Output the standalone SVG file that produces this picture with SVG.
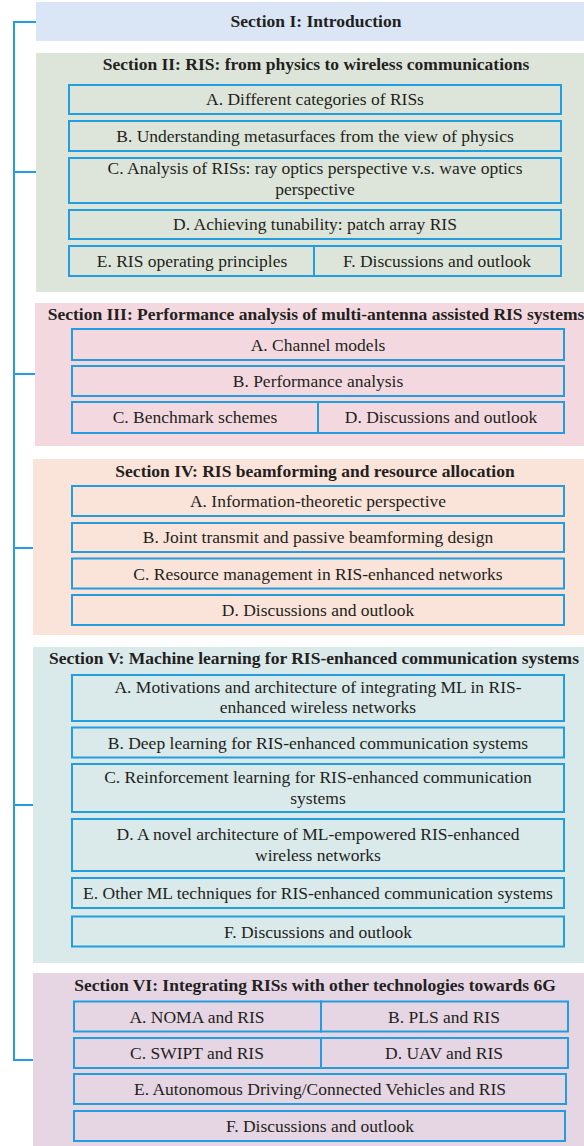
<svg xmlns="http://www.w3.org/2000/svg" width="584" height="1146" viewBox="0 0 584 1146">
<style>
text{font-family:"Liberation Serif","Times New Roman",serif;font-size:17.5px;fill:#231f20;text-anchor:middle}
.t{font-weight:bold}
.b{fill:none;stroke:#229ee0;stroke-width:2}
.c{fill:none;stroke:#229ee0;stroke-width:2}
</style>
<rect width="584" height="1146" fill="#ffffff"/>
<g id="connectors">
<path class="c" d="M14 22V1060M13 22H36M14 172H36M14 374H35M14 548H33M14 805H33M13 1060H33"/>
</g>
<g id="s1">
<rect x="36" y="2" width="548" height="39" fill="#dae6f5"/>
<text class="t" x="316" y="27">Section I: Introduction</text>
</g>
<g id="s2">
<rect x="36" y="53" width="548" height="239" fill="#dde5da"/>
<text class="t" x="316" y="70">Section II: RIS: from physics to wireless communications</text>
<g id="s2a"><rect class="b" x="69" y="85" width="492" height="29"/><text x="315" y="105">A. Different categories of RISs</text></g>
<g id="s2b"><rect class="b" x="69" y="121" width="492" height="30"/><text x="315" y="142">B. Understanding metasurfaces from the view of physics</text></g>
<g id="s2c"><rect class="b" x="69" y="158" width="492" height="45"/><text x="315" y="174">C. Analysis of RISs: ray optics perspective v.s. wave optics</text><text x="315" y="195">perspective</text></g>
<g id="s2d"><rect class="b" x="69" y="210" width="492" height="29"/><text x="315" y="230">D. Achieving tunability: patch array RIS</text></g>
<g id="s2e"><rect class="b" x="69" y="246" width="245" height="30"/><text x="192" y="267">E. RIS operating principles</text></g>
<g id="s2f"><rect class="b" x="314" y="246" width="247" height="30"/><text x="437" y="267">F. Discussions and outlook</text></g>
</g>
<g id="s3">
<rect x="35" y="303" width="549" height="143" fill="#f3d9df"/>
<text class="t" x="316" y="320">Section III: Performance analysis of multi-antenna assisted RIS systems</text>
<g id="s3a"><rect class="b" x="72" y="329" width="492" height="31"/><text x="318" y="351">A. Channel models</text></g>
<g id="s3b"><rect class="b" x="72" y="366" width="492" height="30"/><text x="318" y="387">B. Performance analysis</text></g>
<g id="s3c"><rect class="b" x="72" y="402" width="246" height="31"/><text x="195" y="423">C. Benchmark schemes</text></g>
<g id="s3d"><rect class="b" x="318" y="402" width="246" height="31"/><text x="441" y="423">D. Discussions and outlook</text></g>
</g>
<g id="s4">
<rect x="33" y="459" width="551" height="176" fill="#fae3d9"/>
<text class="t" x="315" y="477">Section IV: RIS beamforming and resource allocation</text>
<g id="s4a"><rect class="b" x="72" y="486" width="492" height="30"/><text x="318" y="507">A. Information-theoretic perspective</text></g>
<g id="s4b"><rect class="b" x="72" y="523" width="492" height="29"/><text x="318" y="543">B. Joint transmit and passive beamforming design</text></g>
<g id="s4c"><rect class="b" x="72" y="558.5" width="492" height="30"/><text x="318" y="579.5">C. Resource management in RIS-enhanced networks</text></g>
<g id="s4d"><rect class="b" x="72" y="595" width="492" height="30"/><text x="318" y="616">D. Discussions and outlook</text></g>
</g>
<g id="s5">
<rect x="33" y="647" width="551" height="316" fill="#dae9ea"/>
<text class="t" x="314" y="664">Section V: Machine learning for RIS-enhanced communication systems</text>
<g id="s5a"><rect class="b" x="72" y="675" width="492" height="46"/><text x="318" y="693">A. Motivations and architecture of integrating ML in RIS-</text><text x="318" y="713">enhanced wireless networks</text></g>
<g id="s5b"><rect class="b" x="72" y="727.5" width="492" height="30"/><text x="318" y="748.5">B. Deep learning for RIS-enhanced communication systems</text></g>
<g id="s5c"><rect class="b" x="72" y="764" width="492" height="48"/><text x="318" y="783">C. Reinforcement learning for RIS-enhanced communication</text><text x="318" y="804">systems</text></g>
<g id="s5d"><rect class="b" x="72" y="819" width="492" height="52"/><text x="318" y="840">D. A novel architecture of ML-empowered RIS-enhanced</text><text x="318" y="861">wireless networks</text></g>
<g id="s5e"><rect class="b" x="72" y="878" width="492" height="30"/><text x="318" y="899">E. Other ML techniques for RIS-enhanced communication systems</text></g>
<g id="s5f"><rect class="b" x="72" y="916.5" width="492" height="30"/><text x="318" y="937.5">F. Discussions and outlook</text></g>
</g>
<g id="s6">
<rect x="33" y="973" width="551" height="173" fill="#e6d5e3"/>
<text class="t" x="315" y="991">Section VI: Integrating RISs with other technologies towards 6G</text>
<g id="s6a"><rect class="b" x="74" y="1001.5" width="247" height="30"/><text x="197" y="1022.5">A. NOMA and RIS</text></g>
<g id="s6b"><rect class="b" x="321" y="1001.5" width="247" height="30"/><text x="444" y="1022.5">B. PLS and RIS</text></g>
<g id="s6c"><rect class="b" x="74" y="1038" width="247" height="30"/><text x="197" y="1059">C. SWIPT and RIS</text></g>
<g id="s6d"><rect class="b" x="321" y="1038" width="247" height="30"/><text x="444" y="1059">D. UAV and RIS</text></g>
<g id="s6e"><rect class="b" x="74" y="1074" width="492" height="30"/><text x="320" y="1095">E. Autonomous Driving/Connected Vehicles and RIS</text></g>
<g id="s6f"><rect class="b" x="74" y="1111" width="491" height="30"/><text x="320" y="1132">F. Discussions and outlook</text></g>
</g>
</svg>
